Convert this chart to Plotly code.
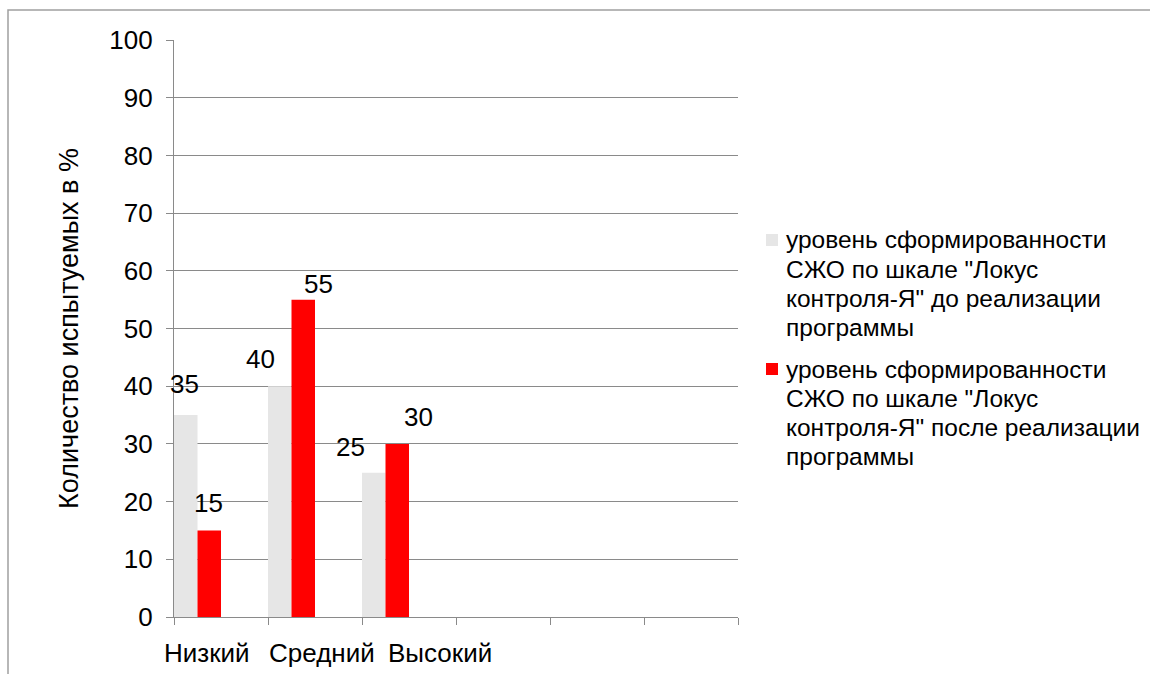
import plotly.graph_objects as go

categories = ["Низкий", "Средний", "Высокий"]
empty_slots = [" ", "  ", "   "]
before_values = [35, 40, 25]
after_values = [15, 55, 30]
series_names = [
    'уровень сформированности<br>СЖО по шкале "Локус<br>контроля-Я" до реализации<br>программы',
    'уровень сформированности<br>СЖО по шкале "Локус<br>контроля-Я" после реализации<br>программы',
]
series_colors = ["#e6e6e6", "#ff0000"]
y_ticks = [0, 10, 20, 30, 40, 50, 60, 70, 80, 90, 100]
y_title = "Количество испытуемых в %"

# style offsets (pixels) for the data labels and category labels
before_label_dx = [-1, -19.5, -23]
before_label_dy = [31, 27, 26]
after_label_dx = [-0.5, 15.5, 21.5]
after_label_dy = [27.5, 16, 27]
cat_label_dx = [-14, 6.5, 31]

FONT = "Liberation Sans, Arial, sans-serif"
FS = 26
LEG_FS = 24.5
GRID = "#8a8a8a"

# plot-area geometry (page pixels) used to place the hand-drawn legend
PLOT_L, PLOT_R, PLOT_T, PLOT_B = 174, 738, 40, 617
W, H = 1150, 674
def px_x(p):
    return (p - PLOT_L) / (PLOT_R - PLOT_L)
def px_y(p):
    return (PLOT_B - p) / (PLOT_B - PLOT_T)

LEG_TEXT_X = 784
LEG_BOX_X = (766, 778)
LEG_FIRST_LINE = [240, 369]
LEG_LINE_STEP = 29.3

fig = go.Figure()
for name, vals, col, off in [(series_names[0], before_values, series_colors[0], -0.5),
                             (series_names[1], after_values, series_colors[1], -0.25)]:
    fig.add_trace(go.Bar(x=categories, y=vals, name=name.replace("<br>", " "),
                         marker=dict(color=col, line=dict(width=0)),
                         width=0.25, offset=off, showlegend=False))

ann = []
for i, c in enumerate(categories):
    ann.append(dict(x=i - 0.5 + 0.125, y=before_values[i], xref="x", yref="y",
                    text=str(before_values[i]), showarrow=False,
                    xshift=before_label_dx[i], yshift=before_label_dy[i],
                    font=dict(family=FONT, size=FS, color="black")))
    ann.append(dict(x=i - 0.25 + 0.125, y=after_values[i], xref="x", yref="y",
                    text=str(after_values[i]), showarrow=False,
                    xshift=after_label_dx[i], yshift=after_label_dy[i],
                    font=dict(family=FONT, size=FS, color="black")))
    ann.append(dict(x=i, y=0, xref="x", yref="paper", text=c, showarrow=False,
                    xshift=cat_label_dx[i], yshift=-36, yanchor="middle",
                    font=dict(family=FONT, size=FS, color="black")))

# outer chart frame (top and left edges visible, the rest runs off the picture)
shapes = [dict(type="rect", xref="paper", yref="paper",
               x0=px_x(8), x1=px_x(W + 20), y0=px_y(H + 20), y1=px_y(10),
               line=dict(color="#a0a0a0", width=1.5), layer="below")]

# legend drawn by hand (Excel-like tight line spacing)
for k, name in enumerate(series_names):
    lines = name.split("<br>")
    y0 = LEG_FIRST_LINE[k]
    for j, line in enumerate(lines):
        ann.append(dict(x=px_x(LEG_TEXT_X), y=px_y(y0 + j * LEG_LINE_STEP),
                        xref="paper", yref="paper", xanchor="left", yanchor="middle",
                        text=line, showarrow=False,
                        font=dict(family=FONT, size=LEG_FS, color="black")))
    shapes.append(dict(type="rect", xref="paper", yref="paper",
                       x0=px_x(LEG_BOX_X[0]), x1=px_x(LEG_BOX_X[1]),
                       y0=px_y(y0 + 6), y1=px_y(y0 - 6),
                       fillcolor=series_colors[k], line=dict(width=0)))

fig.update_layout(
    width=W, height=H,
    margin=dict(l=PLOT_L, r=W - PLOT_R, t=PLOT_T, b=H - PLOT_B),
    paper_bgcolor="white", plot_bgcolor="white",
    font=dict(family=FONT, size=FS, color="black"),
    barmode="overlay",
    annotations=ann,
    shapes=shapes,
    showlegend=False,
)
fig.update_xaxes(type="category", categoryorder="array",
                 categoryarray=categories + empty_slots,
                 range=[-0.5, 5.5], showticklabels=False,
                 ticks="outside", tickson="boundaries", ticklen=7,
                 tickcolor=GRID, showline=True, linecolor=GRID, linewidth=1.3,
                 showgrid=False, zeroline=False, fixedrange=True)
fig.update_yaxes(range=[0, 100], tickvals=y_ticks, ticks="outside", ticklen=7,
                 tickcolor=GRID, showline=True, linecolor=GRID, linewidth=1.3,
                 showgrid=True, gridcolor=GRID, gridwidth=1.3, zeroline=False,
                 ticklabelstandoff=8,
                 tickfont=dict(family=FONT, size=FS, color="black"),
                 title=dict(text=y_title, standoff=22,
                            font=dict(family=FONT, size=27, color="black")))

fig.write_html(
    "out.html",
    config={"displayModeBar": False},
    post_script="document.documentElement.style.margin='0';"
                "document.body.style.margin='0';"
                "document.body.style.overflow='hidden';",
)
